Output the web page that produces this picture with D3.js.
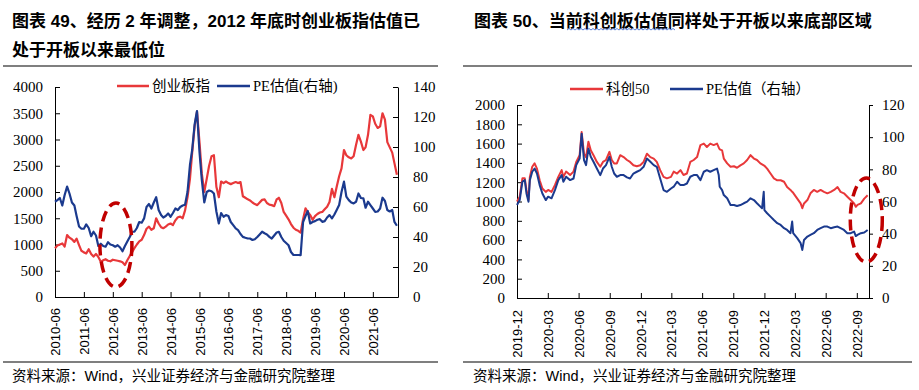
<!DOCTYPE html>
<html>
<head>
<meta charset="utf-8">
<script src="https://cdn.jsdelivr.net/npm/d3@7"></script>
<style>
    body {margin: 0; background: #fff;}
    svg text {font-family: "Liberation Serif", "Noto Sans CJK SC", serif; fill: #000;}
</style>
</head>
<body>
<svg id="chart" width="919" height="390"></svg>
<script>
// ---- chart 49: 创业板指 and its PE, monthly from 2010-06
const cybStart = "2010-06";
const cybIndex = [
    930, 980, 1000, 1020, 960, 1180, 1130, 1100, 1050, 1110,
    990, 880, 850, 830, 910, 820, 770, 820, 760, 670,
    700, 720, 690, 680, 710, 700, 690, 680, 660, 610,
    700, 780, 860, 930, 1000, 1060, 1090, 1180, 1300, 1340,
    1280, 1310, 1500, 1400, 1330, 1310, 1340, 1380, 1400, 1370,
    1460, 1520, 1530, 1500, 1650, 1900, 2250, 2750, 3250, 3530,
    2960, 2350, 2000, 2250, 2500, 2680, 2700, 2100, 1900, 2200,
    2170, 2200, 2170, 2150, 2170, 2190, 2170, 2190, 1920, 1890,
    1860, 1840, 1800, 1770, 1750, 1800, 1850, 1860, 1790, 1760,
    1750, 1730, 1860, 1890, 1790, 1620, 1550, 1480, 1390, 1320,
    1280, 1260, 1225, 1480, 1690, 1620, 1560, 1470, 1540, 1580,
    1610, 1620, 1670, 1720, 1810, 2060, 1900, 2100, 2300, 2450,
    2800, 2700, 2660, 2640, 2680, 2900, 3090, 2960, 2800, 2850,
    3090, 3470, 3440, 3300, 3220, 3250, 3500, 3380, 2950, 2850,
    2750, 2550, 2330
];
const cybPE = [
    63.5, 64.6, 66, 61, 68, 73.6, 69, 63, 61, 54,
    47, 45.5, 45.5, 48.4, 46, 40.5, 43.5, 41, 34, 35.5,
    34, 33.5, 36.5, 35, 34.5, 33.5, 34.5, 33, 30.5, 34,
    37, 40, 43.5, 43.5, 46, 50, 49.5, 52.4, 60, 62,
    59, 63, 66.5, 58, 54.6, 53, 54, 55.7, 53.5, 56,
    59, 58, 60, 61, 61.5, 70, 88, 98, 115, 124,
    97, 78, 63, 70, 71, 70.5, 69, 57, 49, 56,
    53.5, 54.6, 54, 50, 47.9, 45.7, 44.6, 42, 40.1, 39.5,
    39, 39, 38, 38.5, 40, 41.7, 43.5, 42.5, 41.7, 40.1,
    39, 41, 43, 43.5, 40, 37.5, 36, 34.5, 30, 28,
    28, 28, 27.9, 50, 54, 57.3, 49, 50, 50.6, 51.5,
    51.9, 50.1, 50.6, 53, 54.6, 52.4, 55, 58, 61.3, 70,
    76.9, 66.9, 64.6, 63, 62.4, 63.5, 69, 66, 65.8, 59.5,
    63.5, 61.3, 59, 56.8, 57, 59, 66.2, 64, 58, 57,
    58, 50.1, 47.5
];
const cybTickLabels = ["2010-06", "2011-06", "2012-06", "2013-06", "2014-06", "2015-06",
    "2016-06", "2017-06", "2018-06", "2019-06", "2020-06", "2021-06"];

// ---- chart 50: 科创50 and its PE
const kcDates = [
    "2019-12-31", "2020-01-08", "2020-01-16", "2020-01-23", "2020-01-28", "2020-02-03", "2020-02-07", "2020-02-14",
    "2020-02-21", "2020-02-28", "2020-03-07", "2020-03-15", "2020-03-25", "2020-04-01", "2020-04-11", "2020-04-21",
    "2020-05-01", "2020-05-11", "2020-05-16", "2020-05-24", "2020-06-05", "2020-06-15", "2020-06-23", "2020-07-03",
    "2020-07-09", "2020-07-16", "2020-07-22", "2020-07-29", "2020-08-05", "2020-08-13", "2020-08-23", "2020-09-02",
    "2020-09-10", "2020-09-19", "2020-09-29", "2020-10-06", "2020-10-13", "2020-10-21", "2020-10-31", "2020-11-10",
    "2020-11-20", "2020-11-29", "2020-12-09", "2020-12-19", "2020-12-29", "2021-01-08", "2021-01-18", "2021-01-28",
    "2021-02-07", "2021-02-16", "2021-02-26", "2021-03-08", "2021-03-18", "2021-03-30", "2021-04-07", "2021-04-17",
    "2021-04-27", "2021-05-06", "2021-05-16", "2021-05-26", "2021-06-05", "2021-06-15", "2021-06-25", "2021-07-05",
    "2021-07-14", "2021-07-24", "2021-08-03", "2021-08-13", "2021-08-18", "2021-08-21", "2021-08-28", "2021-09-02",
    "2021-09-12", "2021-09-22", "2021-10-02", "2021-10-11", "2021-10-21", "2021-10-31", "2021-11-10", "2021-11-20",
    "2021-11-30", "2021-12-09", "2021-12-19", "2021-12-24", "2021-12-29", "2021-12-31", "2022-01-08", "2022-01-18",
    "2022-01-28", "2022-02-07", "2022-02-17", "2022-02-27", "2022-03-08", "2022-03-18", "2022-03-23", "2022-03-26",
    "2022-04-07", "2022-04-17", "2022-04-22", "2022-04-27", "2022-05-07", "2022-05-16", "2022-05-26", "2022-06-05",
    "2022-06-15", "2022-06-25", "2022-07-05", "2022-07-15", "2022-07-25", "2022-08-04", "2022-08-13", "2022-08-23",
    "2022-09-02", "2022-09-12", "2022-09-22", "2022-09-27", "2022-10-02", "2022-10-12", "2022-10-22", "2022-11-01"
];
const kc50 = [
    1000, 1050, 1240, 1240, 1120, 1015, 1255, 1360,
    1395, 1340, 1220, 1135, 1100, 1120, 1100, 1170,
    1255, 1325, 1255, 1310, 1275, 1310, 1410, 1480,
    1720, 1495, 1460, 1620, 1530, 1480, 1410, 1360,
    1410, 1430, 1515, 1430, 1395, 1395, 1480, 1460,
    1430, 1410, 1375, 1365, 1375, 1410, 1495, 1460,
    1445, 1410, 1325, 1255, 1240, 1255, 1310, 1290,
    1325, 1275, 1290, 1410, 1430, 1460, 1585, 1600,
    1565, 1600, 1585, 1600, 1560, 1540, 1530, 1445,
    1395, 1360, 1365, 1350, 1375, 1395, 1430, 1480,
    1445, 1430, 1395, 1385, 1375, 1370, 1340, 1290,
    1240, 1220, 1220, 1205, 1150, 1120, 1100, 1090,
    1030, 980, 930, 980, 1015, 1085, 1120, 1100,
    1120, 1100, 1085, 1100, 1120, 1150, 1100, 1085,
    1050, 1015, 980, 945, 965, 980, 1030, 1065
];
const kcPE = [
    57.8, 60.9, 72.3, 73.3, 65, 59.9, 73.3, 78.5,
    80.5, 77.4, 70.2, 65, 60.9, 63, 62, 67.1,
    73.3, 76.4, 72.3, 75.4, 73.3, 74.3, 82.6, 86.7,
    102.2, 85.7, 82.6, 92.9, 87.8, 84.7, 80.5, 76.4,
    80.5, 82.6, 87.8, 81.6, 77.4, 75.4, 76.4, 76.4,
    75, 74.3, 77.4, 78.5, 79.5, 81.6, 86.7, 84.7,
    82.6, 81.6, 74.3, 67.1, 66, 68.1, 69.2, 72.3,
    70.2, 70.2, 71.2, 75.4, 76.4, 76.4, 73.3, 78.5,
    79.5, 78.5, 79.5, 80.5, 76.4, 69.2, 67.1, 64,
    62, 57.8, 57.8, 57.2, 57.8, 58.9, 59.9, 62,
    60.9, 58.9, 56.8, 55.8, 66, 54.7, 52.7, 50.6,
    48.5, 46.5, 45.4, 43.4, 42.3, 40.3, 47.5, 40.3,
    37.2, 34.1, 29.9, 36.1, 38.2, 39.2, 40.3, 42.3,
    43.4, 44.4, 44.4, 43.4, 44, 44.4, 43.4, 42.3,
    40.3, 40.3, 41.3, 38.5, 39.2, 40.3, 40.7, 42.3
];
const kcTickLabels = ["2019-12", "2020-03", "2020-06", "2020-09", "2020-12", "2021-03",
    "2021-06", "2021-09", "2021-12", "2022-03", "2022-06", "2022-09"];

const parseMonth = d3.timeParse("%Y-%m");
const parseDay = d3.timeParse("%Y-%m-%d");
const monthEnd = s => d3.timeDay.offset(d3.timeMonth.offset(parseMonth(s), 1), -1);

const RED = "#E8383A";
const BLUE = "#1B3A8E";
const MARK = "#C00000";


class DualAxisChart {
    svg;
    props;

    constructor(svg, props) {
        this.svg = svg.append("g");
        this.props = props;

        this.setHeader();
        this.setScales();
        this.setXAxis();
        this.setYAxes();
        this.setLines();
        this.setLegend();
        this.setHighlight();
    }

    setHeader() {
        const {titles, rule, source} = this.props;

        titles.forEach(t => {
            this.svg.append("text")
                .attr("x", t.x).attr("y", t.y)
                .style("font-family", '"Liberation Sans", "Noto Sans CJK SC", sans-serif')
                .style("font-size", "17px")
                .style("font-weight", "bold")
                .text(t.text);
        });

        [rule.top, rule.bottom].forEach(y => {
            this.svg.append("line")
                .attr("x1", rule.x0).attr("x2", rule.x1)
                .attr("y1", y).attr("y2", y)
                .attr("stroke", "#000").attr("stroke-width", 1.2);
        });

        this.svg.append("text")
            .attr("x", source.x).attr("y", source.y)
            .style("font-family", '"Liberation Sans", "Noto Sans CJK SC", sans-serif')
            .style("font-size", "14.5px")
            .text("资料来源：Wind，兴业证券经济与金融研究院整理");
    }

    setScales() {
        const {plot, xDomain, leftMax, rightMax} = this.props;

        this.props.xScale = d3.scaleTime().domain(xDomain).range([plot.left, plot.right]);
        this.props.yLeft = d3.scaleLinear().domain([0, leftMax]).range([plot.bottom, plot.top]);
        this.props.yRight = d3.scaleLinear().domain([0, rightMax]).range([plot.bottom, plot.top]);
    }

    setXAxis() {
        const {plot, xScale, tickDates, tickLabels, labelGap} = this.props;

        const axis = this.svg.append("g")
            .attr("class", "axis axis--x")
            .attr("transform", `translate(0,${plot.bottom})`)
            .call(d3.axisBottom(xScale)
                .tickValues(tickDates)
                .tickFormat((d, i) => tickLabels[i])
                .tickSizeInner(-5)
                .tickSizeOuter(0));

        axis.select(".domain").attr("stroke", "#000");
        axis.selectAll(".tick line").attr("stroke", "#000");
        axis.selectAll("text")
            .attr("transform", "rotate(-90)")
            .attr("x", -labelGap)
            .attr("y", 0)
            .attr("dy", "0.35em")
            .attr("text-anchor", "end")
            .style("font-family", '"Liberation Sans", sans-serif')
            .style("font-size", "13px");
    }

    setYAxes() {
        const {plot, yLeft, yRight, leftStep, rightStep, leftMax, rightMax, rightTickOut} = this.props;

        const left = this.svg.append("g")
            .attr("class", "axis axis--yl")
            .attr("transform", `translate(${plot.left},0)`)
            .call(d3.axisLeft(yLeft)
                .tickValues(d3.range(0, leftMax + 1, leftStep))
                .tickFormat(d3.format("d"))
                .tickSizeInner(-5).tickSizeOuter(0).tickPadding(12));

        const rightAxis = d3.axisRight(yRight)
            .tickValues(d3.range(0, rightMax + 1, rightStep))
            .tickFormat(d3.format("d"))
            .tickSizeOuter(0);
        if (rightTickOut) rightAxis.tickSizeInner(4).tickPadding(9);
        else rightAxis.tickSizeInner(-5).tickPadding(15);

        const right = this.svg.append("g")
            .attr("class", "axis axis--yr")
            .attr("transform", `translate(${plot.right},0)`)
            .call(rightAxis);

        [left, right].forEach(g => {
            g.select(".domain").attr("stroke", "#000");
            g.selectAll(".tick line").attr("stroke", "#000");
            g.selectAll("text")
                .style("font-family", '"Liberation Serif", serif')
                .style("font-size", "15px");
        });
    }

    setLines() {
        const {xScale, yLeft, yRight, leftSeries, rightSeries, lineWidth} = this.props;

        const leftLine = d3.line().x(d => xScale(d.date)).y(d => yLeft(d.value));
        const rightLine = d3.line().x(d => xScale(d.date)).y(d => yRight(d.value));

        this.svg.append("path")
            .datum(leftSeries)
            .attr("fill", "none")
            .attr("stroke", RED)
            .attr("stroke-width", lineWidth)
            .attr("stroke-linejoin", "round")
            .attr("d", leftLine);

        this.svg.append("path")
            .datum(rightSeries)
            .attr("fill", "none")
            .attr("stroke", BLUE)
            .attr("stroke-width", lineWidth)
            .attr("stroke-linejoin", "round")
            .attr("d", rightLine);
    }

    setLegend() {
        const {legend} = this.props;

        legend.forEach(item => {
            this.svg.append("line")
                .attr("x1", item.x).attr("x2", item.x + item.len)
                .attr("y1", item.y).attr("y2", item.y)
                .attr("stroke", item.color).attr("stroke-width", 2.5);
            this.svg.append("text")
                .attr("x", item.x + item.len + 3).attr("y", item.y)
                .attr("dy", "0.35em")
                .style("font-size", "14.5px")
                .text(item.label);
        });
    }

    setHighlight() {
        const {xScale, yLeft, highlight} = this.props;

        this.svg.append("ellipse")
            .attr("cx", xScale(highlight.date))
            .attr("cy", yLeft(highlight.value))
            .attr("rx", highlight.rx)
            .attr("ry", highlight.ry)
            .attr("fill", "none")
            .attr("stroke", MARK)
            .attr("stroke-width", 3.5)
            .attr("stroke-dasharray", "11,6");
    }
}


const svg = d3.select("#chart");

const cybSeries = (arr) => arr.map((v, i) => ({date: d3.timeMonth.offset(parseMonth(cybStart), i), value: v}));

new DualAxisChart(svg, {
    titles: [
        {x: 12, y: 27, text: "图表 49、经历 2 年调整，2012 年底时创业板指估值已"},
        {x: 12, y: 56, text: "处于开板以来最低位"}
    ],
    rule: {x0: 3, x1: 438, top: 66, bottom: 362},
    source: {x: 12, y: 381},
    plot: {left: 55, right: 398, top: 87, bottom: 297},
    xDomain: [parseMonth("2010-06"), parseDay("2022-04-15")],
    tickDates: cybTickLabels.map(parseMonth),
    tickLabels: cybTickLabels,
    labelGap: 11,
    leftMax: 4000, leftStep: 500,
    rightMax: 140, rightStep: 20,
    rightTickOut: false,
    leftSeries: cybSeries(cybIndex),
    rightSeries: cybSeries(cybPE),
    lineWidth: 2.2,
    legend: [
        {x: 117, y: 86, len: 32, color: RED, label: "创业板指"},
        {x: 217, y: 86, len: 33, color: BLUE, label: "PE估值(右轴)"}
    ],
    highlight: {date: parseDay("2012-07-10"), value: 990, rx: 16, ry: 42}
});

new DualAxisChart(svg, {
    titles: [
        {x: 474, y: 27, text: "图表 50、当前科创板估值同样处于开板以来底部区域"}
    ],
    rule: {x0: 463, x1: 912, top: 66, bottom: 362},
    source: {x: 473, y: 381},
    plot: {left: 517, right: 869, top: 105, bottom: 298},
    xDomain: [parseDay("2019-12-31"), parseDay("2022-11-05")],
    tickDates: kcTickLabels.map(monthEnd),
    tickLabels: kcTickLabels,
    labelGap: 12,
    leftMax: 2000, leftStep: 200,
    rightMax: 120, rightStep: 20,
    rightTickOut: true,
    leftSeries: kcDates.map((d, i) => ({date: parseDay(d), value: kc50[i]})),
    rightSeries: kcDates.map((d, i) => ({date: parseDay(d), value: kcPE[i]})),
    lineWidth: 2,
    legend: [
        {x: 570, y: 89, len: 33, color: RED, label: "科创50"},
        {x: 670, y: 89, len: 33, color: BLUE, label: "PE估值（右轴）"}
    ],
    highlight: {date: parseDay("2022-10-28"), value: 808, rx: 16, ry: 42}
});

// spell-check squiggle under part of the second title
const squiggle = d3.path();
squiggle.moveTo(567, 30);
for (let x = 567; x < 673; x += 4) {
    squiggle.lineTo(x + 2, 28.5);
    squiggle.lineTo(x + 4, 30);
}
svg.append("path")
    .attr("d", squiggle.toString())
    .attr("fill", "none")
    .attr("stroke", "#5B7FD6")
    .attr("stroke-width", 1);
</script>
</body>
</html>
